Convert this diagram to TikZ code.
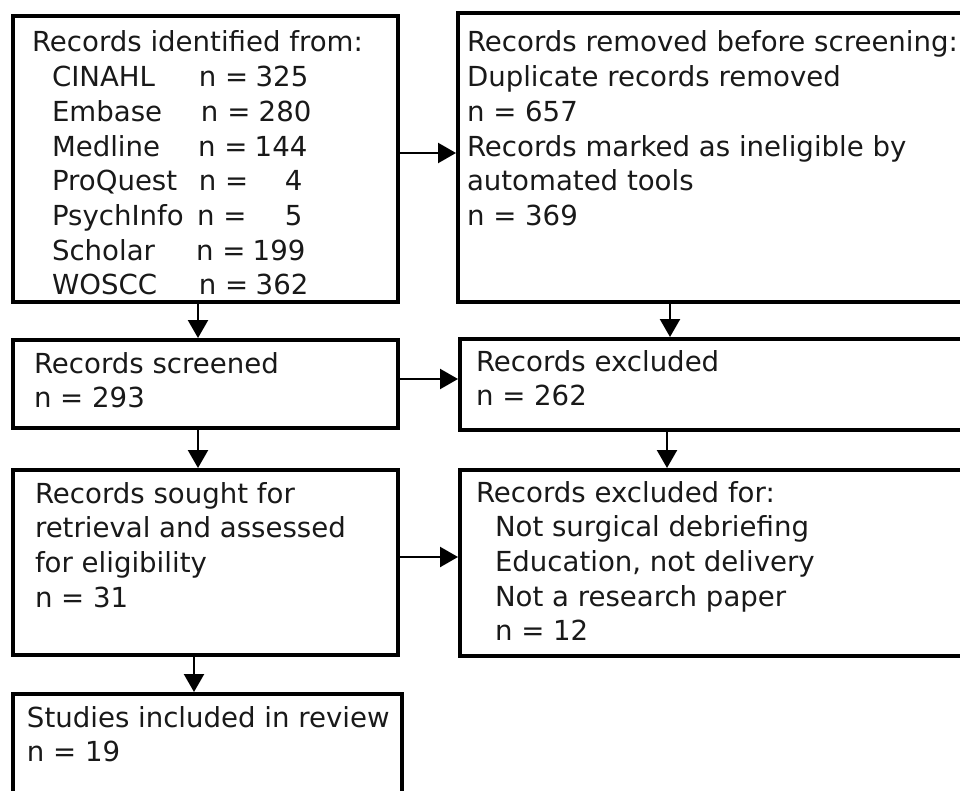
\documentclass[tikz,border=0pt]{standalone}
\usepackage{fontspec}
\setmainfont{DejaVu Sans}
\usetikzlibrary{arrows.meta}
\newcommand\srcrow[4]{\makebox[#1pt][l]{\hspace{20pt}#2}n =\makebox[#3pt][r]{#4}}
\begin{document}
\begin{tikzpicture}[x=1pt,y=-1pt,
  box/.style={draw=black, line width=4pt, rectangle, inner sep=0pt, outer sep=2pt},
  txt/.style={anchor=base west, inner sep=0pt, outer sep=0pt,
    font=\fontsize{27.6}{34.7}\selectfont, text=black!90},
  arr/.style={line width=2.4pt, draw=black, -{Triangle[length=18pt,width=20pt]}}]
\useasboundingbox (0,0) rectangle (960,791);
\clip (0,0) rectangle (960,791);

% boxes
\node[box, minimum width=385pt, minimum height=286pt] (A) at (205.5,159) {};
\node[box, minimum width=527pt, minimum height=289pt] (B) at (721.5,157.5) {};
\node[box, minimum width=385pt, minimum height=88pt]  (C) at (205.5,384) {};
\node[box, minimum width=525pt, minimum height=91pt]  (D) at (722.5,384.5) {};
\node[box, minimum width=385pt, minimum height=185pt] (E) at (205.5,562.5) {};
\node[box, minimum width=525pt, minimum height=186pt] (F) at (722.5,563) {};
\node[box, minimum width=389pt, minimum height=136pt] (G) at (207.5,762) {};

% texts
\node[txt] (tA) at (32,52) {\begin{tabular}[t]{@{}l@{}}
Records identified from:\\
\srcrow{167}{CINAHL}{60}{325}\\
\srcrow{169}{Embase}{61}{280}\\
\srcrow{166}{Medline}{60}{144}\\
\srcrow{167}{ProQuest}{54}{4}\\
\srcrow{165}{PsychInfo}{56}{5}\\
\srcrow{164}{Scholar}{60}{199}\\
\srcrow{167}{WOSCC}{60}{362}
\end{tabular}};

\node[txt] (tB) at (467,52) {\begin{tabular}[t]{@{}l@{}}
Records removed before screening:\\
Duplicate records removed\\
n = 657\\
Records marked as ineligible by\\
automated tools\\
n = 369
\end{tabular}};

\node[txt] (tC) at (34,373) {\begin{tabular}[t]{@{}l@{}}
Records screened\\
n = 293
\end{tabular}};

\node[txt] (tD) at (476,371) {\begin{tabular}[t]{@{}l@{}}
Records excluded\\
n = 262
\end{tabular}};

\node[txt] (tE) at (35,503) {\begin{tabular}[t]{@{}l@{}}
Records sought for\\
retrieval and assessed\\
for eligibility\\
n = 31
\end{tabular}};

\node[txt] (tF) at (476,502) {\begin{tabular}[t]{@{}l@{}}
Records excluded for:\\
\hspace{19pt}Not surgical debriefing\\
\hspace{19pt}Education, not delivery\\
\hspace{19pt}Not a research paper\\
\hspace{19pt}n = 12
\end{tabular}};

\node[txt] (tG) at (27,727) {\begin{tabular}[t]{@{}l@{}}
Studies included in review\\
n = 19
\end{tabular}};

% helper coordinates for connector positions
\coordinate (yAB) at (0,153);
\coordinate (xAC) at (198,0);
\coordinate (yCD) at (0,379);
\coordinate (xBD) at (670,0);
\coordinate (xDF) at (667,0);
\coordinate (yEF) at (0,557);
\coordinate (xEG) at (194,0);

% connectors
\draw[arr] (A.east |- yAB) -- (B.west |- yAB);
\draw[arr] (A.south -| xAC) -- (C.north -| xAC);
\draw[arr] (B.south -| xBD) -- (D.north -| xBD);
\draw[arr] (C.east |- yCD) -- (D.west |- yCD);
\draw[arr] (C.south -| xAC) -- (E.north -| xAC);
\draw[arr] (D.south -| xDF) -- (F.north -| xDF);
\draw[arr] (E.east |- yEF) -- (F.west |- yEF);
\draw[arr] (E.south -| xEG) -- (G.north -| xEG);
\end{tikzpicture}
\end{document}
